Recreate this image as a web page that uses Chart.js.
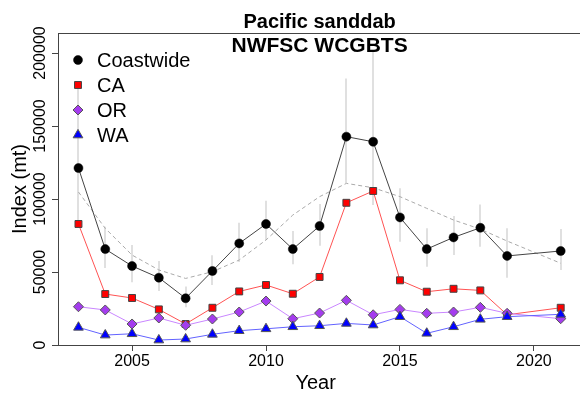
<!DOCTYPE html>
<html>
<head>
<meta charset="utf-8">
<script src="https://cdn.jsdelivr.net/npm/chart.js@4.4.1/dist/chart.umd.min.js"></script>
<style>
  body { margin: 0; background: #fff; }
  canvas { display: block; }
</style>
</head>
<body>
<canvas id="chart" width="580" height="395"></canvas>
<script>
// survey years (no 2020 survey)
const years = [2003, 2004, 2005, 2006, 2007, 2008, 2009, 2010, 2011, 2012, 2013, 2014, 2015, 2016, 2017, 2018, 2019, 2021];

const coastwide = [121200, 65700, 54100, 46100, 32000, 50700, 69600, 82900, 65700, 81500, 142700, 139200, 87400, 65700, 73700, 80300, 61000, 64400];
const coastLow  = [83600, 52700, 42900, 37000, 25800, 41100, 56800, 71900, 55300, 68000, 111000, 95900, 70800, 53600, 61600, 67300, 46100, 51300];
const coastHigh = [176000, 81000, 68500, 57500, 40000, 61400, 83800, 98800, 78100, 96600, 182600, 202000, 107300, 80000, 88300, 96300, 79900, 79400];
const trend     = [104800, 79900, 61600, 51400, 45600, 50200, 58200, 71900, 89000, 101600, 110700, 107700, 101600, 93600, 85600, 79400, 71200, 56000];

const caIndex = [82900, 34900, 32200, 24400, 14400, 25500, 36700, 41100, 35100, 46600, 97400, 105500, 44300, 36500, 38500, 37400, 20700, 25500];
const orIndex = [26200, 24000, 14400, 18500, 13500, 17800, 22600, 30100, 18000, 21900, 30600, 20700, 24400, 21700, 22600, 25800, 21700, 18000];
const waIndex = [12100, 6800, 7700, 3400, 4100, 7300, 9800, 11100, 12500, 13200, 14800, 13700, 19400, 8000, 12500, 17600, 19400, 21000];

const xTicks = [2005, 2010, 2015, 2020];
const yTicks = [0, 50000, 100000, 150000, 200000];
const yLabels = ['0', '50000', '100000', '150000', '200000'];

const titleLines = ['Pacific sanddab', 'NWFSC WCGBTS'];
const seriesNames = ['Coastwide', 'CA', 'OR', 'WA'];

const FONT = '"Liberation Sans", Arial, sans-serif';
const AXIS = '#444';

function toXY(arr) {
    return arr.map((v, i) => ({ x: years[i], y: v }));
}

Chart.defaults.font.family = FONT;
Chart.defaults.color = '#000';

const extras = {
    id: 'extras',
    beforeDatasetsDraw(chart) {
        const ctx = chart.ctx;
        const x = chart.scales.x, y = chart.scales.y;
        // confidence intervals for the coastwide index
        ctx.save();
        ctx.strokeStyle = '#D6D6D6';
        ctx.lineWidth = 1.5;
        years.forEach((yr, i) => {
            const px = Math.round(x.getPixelForValue(yr));
            ctx.beginPath();
            ctx.moveTo(px, y.getPixelForValue(coastLow[i]));
            ctx.lineTo(px, y.getPixelForValue(coastHigh[i]));
            ctx.stroke();
        });
        ctx.restore();
    },
    afterDraw(chart) {
        const ctx = chart.ctx;
        const a = chart.chartArea;
        const x = chart.scales.x, y = chart.scales.y;
        ctx.save();
        // box
        ctx.strokeStyle = AXIS;
        ctx.lineWidth = 1;
        ctx.strokeRect(a.left + 0.5, a.top + 0.5, a.right - a.left + 10, a.bottom - a.top);

        // y tick labels, rotated like R
        ctx.fillStyle = '#000';
        ctx.font = '16px ' + FONT;
        ctx.textAlign = 'center';
        ctx.textBaseline = 'alphabetic';
        yTicks.forEach((v, i) => {
            ctx.save();
            ctx.translate(45, y.getPixelForValue(v));
            ctx.rotate(-Math.PI / 2);
            ctx.fillText(yLabels[i], 0, 0);
            ctx.restore();
        });

        // title over the plot centre (plot region runs past the right edge)
        const cx = x.getPixelForValue((years[0] + years[years.length - 1]) / 2);
        ctx.font = 'bold 20px ' + FONT;
        ctx.fillText(titleLines[0], cx, 28);
        ctx.font = 'bold 21px ' + FONT;
        ctx.fillText(titleLines[1], cx, 52);

        // legend
        ctx.textAlign = 'left';
        ctx.textBaseline = 'middle';
        ctx.font = '20px ' + FONT;
        const order = [3, 2, 1, 0]; // dataset index for each legend row
        seriesNames.forEach((name, row) => {
            const ds = chart.data.datasets[order[row]];
            const ly = 60 + row * 25;
            ctx.fillStyle = ds.pointBackgroundColor;
            ctx.strokeStyle = ds.pointBorderColor;
            ctx.lineWidth = ds.pointBorderWidth;
            Chart.helpers.drawPoint(ctx, {
                pointStyle: ds.pointStyle,
                radius: ds.pointRadius,
                rotation: 0,
                borderWidth: ds.pointBorderWidth
            }, 78, ly);
            ctx.fillStyle = '#000';
            ctx.fillText(name, 97, ly + 1);
        });
        ctx.restore();
    }
};

new Chart(document.getElementById('chart'), {
    type: 'line',
    data: {
        datasets: [{
            label: 'WA',
            data: toXY(waIndex),
            order: 1,
            borderColor: '#6262FF',
            borderWidth: 1,
            pointStyle: 'triangle',
            pointRadius: 5.6,
            pointBackgroundColor: '#0000FF',
            pointBorderColor: '#555',
            pointBorderWidth: 1,
        }, {
            label: 'OR',
            data: toXY(orIndex),
            order: 2,
            borderColor: '#C986FF',
            borderWidth: 1,
            pointStyle: 'rectRot',
            pointRadius: 5,
            pointBackgroundColor: '#A43CEE',
            pointBorderColor: '#555',
            pointBorderWidth: 1,
        }, {
            label: 'CA',
            data: toXY(caIndex),
            order: 3,
            borderColor: '#FF5252',
            borderWidth: 1,
            pointStyle: 'rect',
            pointRadius: 4.9,
            pointBackgroundColor: '#FF0000',
            pointBorderColor: '#444',
            pointBorderWidth: 1,
        }, {
            label: 'Coastwide',
            data: toXY(coastwide),
            order: 4,
            borderColor: '#444',
            borderWidth: 1,
            pointStyle: 'circle',
            pointRadius: 4.5,
            pointBackgroundColor: '#000',
            pointBorderColor: '#000',
            pointBorderWidth: 0.5,
        }, {
            label: 'trend',
            data: toXY(trend),
            order: 5,
            borderColor: '#AAAAAA',
            borderWidth: 1,
            borderDash: [4, 3],
            pointRadius: 0,
        }]
    },
    options: {
        responsive: false,
        animation: false,
        events: [],
        layout: {
            padding: { top: 33, left: 0, right: 0, bottom: 0 }
        },
        plugins: {
            legend: { display: false },
            tooltip: { enabled: false },
        },
        scales: {
            x: {
                type: 'linear',
                min: 2002.236,
                max: 2021.474,
                afterBuildTicks: (scale) => { scale.ticks = xTicks.map(v => ({ value: v })); },
                afterFit: (scale) => { scale.height = 50; },
                grid: {
                    drawOnChartArea: false,
                    color: AXIS,
                    tickLength: 6,
                },
                border: { color: AXIS },
                ticks: {
                    color: '#000',
                    font: { size: 16 },
                    padding: 1,
                    maxRotation: 0,
                    autoSkip: false,
                    callback: (v) => String(v),
                },
                title: {
                    display: true,
                    text: 'Year',
                    color: '#000',
                    font: { size: 20 },
                    padding: { top: 0, bottom: 0 },
                },
            },
            y: {
                min: 0,
                max: 213700,
                afterBuildTicks: (scale) => { scale.ticks = yTicks.map(v => ({ value: v })); },
                afterFit: (scale) => { scale.width = 58; },
                grid: {
                    drawOnChartArea: false,
                    color: AXIS,
                    tickLength: 6,
                },
                border: { color: AXIS },
                ticks: { display: false },
                title: {
                    display: true,
                    text: 'Index (mt)',
                    color: '#000',
                    font: { size: 20 },
                    padding: { top: 8, bottom: 0 },
                },
            },
        },
    },
    plugins: [extras],
});
</script>
</body>
</html>
